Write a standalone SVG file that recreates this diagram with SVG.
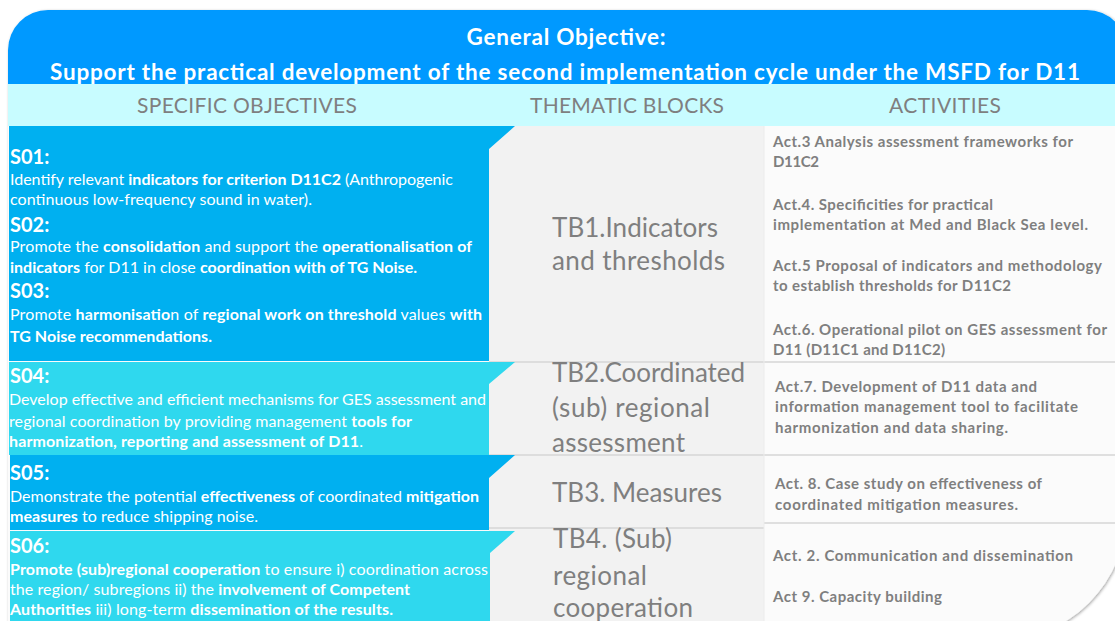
<svg xmlns="http://www.w3.org/2000/svg" width="1115" height="621" viewBox="0 0 1115 621">
<defs>
<style>
.hd{font-family:Lato,"Liberation Sans",sans-serif;font-weight:bold;fill:#FFFFFF;font-size:22.5px}
.ch{font-family:Lato,"Liberation Sans",sans-serif;fill:#7F7F7F;font-size:21px}
.so{font-family:Lato,"Liberation Sans",sans-serif;fill:#FFFFFF;font-size:16px}
.sl{font-family:Lato,"Liberation Sans",sans-serif;fill:#FFFFFF;font-size:20px;font-weight:bold}
.b{font-weight:bold}
.tb{font-family:Lato,"Liberation Sans",sans-serif;fill:#7F7F7F;font-size:26px}
.ac{font-family:Lato,"Liberation Sans",sans-serif;fill:#7F7F7F;font-size:15px;font-weight:bold}
.sep{stroke:#D6D6D6;stroke-width:1.5;fill:none}
.blue{fill:#00B0F0}
.cyan{fill:#2FD8EE}
</style>
<clipPath id="frameClip"><path d="M8,50 A40,40 0 0 1 48,10 L1087,10 A40,40 0 0 1 1127,50 L1127,511 A130,130 0 0 1 997,641 L8,641 Z"/></clipPath>
<filter id="shadow" x="-5%" y="-5%" width="110%" height="110%"><feDropShadow dx="1" dy="1" stdDeviation="1.5" flood-color="#000000" flood-opacity="0.35"/></filter>
</defs>
<rect x="0" y="0" width="1115" height="621" fill="#FFFFFF"/>
<g id="frame">
<path d="M8,50 A40,40 0 0 1 48,10 L1087,10 A40,40 0 0 1 1127,50 L1127,511 A130,130 0 0 1 997,641 L8,641 Z" fill="#FBFBFB" filter="url(#shadow)"/>
<g clip-path="url(#frameClip)">
<rect x="0" y="0" width="1130" height="84" fill="#0099FF"/>
<rect x="0" y="84" width="1130" height="42" fill="#C8FCFF"/>
<rect x="489" y="126" width="275" height="500" fill="#F2F2F2"/>
</g>
</g>
<g id="general-objective">
<text class="hd" x="566" y="45" text-anchor="middle" textLength="199">General Objective:</text>
<text class="hd" x="50" y="80" textLength="1030">Support the practical development of the second implementation cycle under the MSFD for D11</text>
</g>
<g id="column-headers">
<text class="ch" x="137" y="113" textLength="220">SPECIFIC OBJECTIVES</text>
<text class="ch" x="530" y="113" textLength="194">THEMATIC BLOCKS</text>
<text class="ch" x="889" y="113" textLength="112">ACTIVITIES</text>
</g>
<g id="separators">
<line class="sep" x1="489" y1="362" x2="1127" y2="362"/>
<line class="sep" x1="489" y1="455" x2="1127" y2="455"/>
<line class="sep" x1="489" y1="528" x2="764" y2="528"/>
<line class="sep" x1="764" y1="523" x2="1127" y2="523"/>
<line x1="764" y1="126" x2="764" y2="621" stroke="#ECECEC" stroke-width="1"/>
</g>
<g id="so-01-03">
<polygon class="blue" points="9,126 515,126 489,149 489,361 9,361"/>
<text class="sl" x="10" y="164">S01:</text>
<text class="so" x="10" y="185" textLength="443">Identify relevant <tspan class="b">indicators for criterion D11C2</tspan> (Anthropogenic</text>
<text class="so" x="10" y="205" textLength="302">continuous low-frequency sound in water).</text>
<text class="sl" x="10" y="232">S02:</text>
<text class="so" x="10" y="252" textLength="462">Promote the <tspan class="b">consolidation</tspan> and support the <tspan class="b">operationalisation of</tspan></text>
<text class="so" x="10" y="273" textLength="407"><tspan class="b">indicators</tspan> for D11 in close <tspan class="b">coordination with of TG Noise.</tspan></text>
<text class="sl" x="10" y="298">S03:</text>
<text class="so" x="10" y="320" textLength="472">Promote <tspan class="b">harmonisatio</tspan>n of <tspan class="b">regional work on threshold</tspan> values <tspan class="b">with</tspan></text>
<text class="so" x="10" y="342" textLength="202"><tspan class="b">TG Noise recommendations.</tspan></text>
</g>
<g id="so-04">
<polygon class="cyan" points="9,362 515,362 489,384 489,455 9,455"/>
<text class="sl" x="10" y="383">S04:</text>
<text class="so" x="9" y="405" textLength="477">Develop effective and efficient mechanisms for GES assessment and</text>
<text class="so" x="9" y="427" textLength="403">regional coordination by providing management <tspan class="b">tools for</tspan></text>
<text class="so" x="9" y="447" textLength="354"><tspan class="b">harmonization, reporting and assessment of D11</tspan>.</text>
</g>
<g id="so-05">
<polygon class="blue" points="10,455 515,455 489,478 489,530 10,530"/>
<text class="sl" x="10" y="480">S05:</text>
<text class="so" x="10" y="502" textLength="469">Demonstrate the potential <tspan class="b">effectiveness</tspan> of coordinated <tspan class="b">mitigation</tspan></text>
<text class="so" x="10" y="522" textLength="248"><tspan class="b">measures</tspan> to reduce shipping noise.</text>
</g>
<g id="so-06">
<polygon class="cyan" points="10,531 515,531 490,553 490,621 10,621"/>
<text class="sl" x="10" y="553">S06:</text>
<text class="so" x="10" y="575" textLength="478"><tspan class="b">Promote (sub)regional cooperation</tspan> to ensure i) coordination across</text>
<text class="so" x="10" y="595" textLength="400">the region/ subregions ii) the <tspan class="b">involvement of Competent</tspan></text>
<text class="so" x="10" y="615" textLength="383"><tspan class="b">Authorities</tspan> iii) long-term <tspan class="b">dissemination of the results.</tspan></text>
</g>
<g id="tb1">
<text class="tb" x="552" y="237" textLength="166">TB1.Indicators</text>
<text class="tb" x="552" y="270" textLength="173">and thresholds</text>
</g>
<g id="tb2">
<text class="tb" x="552" y="382" textLength="193">TB2.Coordinated</text>
<text class="tb" x="552" y="417" textLength="158">(sub) regional</text>
<text class="tb" x="552" y="452" textLength="133">assessment</text>
</g>
<g id="tb3">
<text class="tb" x="552" y="502" textLength="170">TB3. Measures</text>
</g>
<g id="tb4">
<text class="tb" x="553" y="548" textLength="119">TB4. (Sub)</text>
<text class="tb" x="553" y="585" textLength="94">regional</text>
<text class="tb" x="553" y="617" textLength="140">cooperation</text>
</g>
<g id="act-tb1">
<text class="ac" x="773" y="147" textLength="300">Act.3 Analysis assessment frameworks for</text>
<text class="ac" x="773" y="167" textLength="46">D11C2</text>
<text class="ac" x="773" y="210" textLength="220">Act.4. Specificities for practical</text>
<text class="ac" x="773" y="230" textLength="315">implementation at Med and Black Sea level.</text>
<text class="ac" x="773" y="271" textLength="329">Act.5 Proposal of indicators and methodology</text>
<text class="ac" x="773" y="291" textLength="238">to establish thresholds for D11C2</text>
<text class="ac" x="773" y="335" textLength="334">Act.6. Operational pilot on GES assessment for</text>
<text class="ac" x="773" y="355" textLength="172">D11 (D11C1 and D11C2)</text>
</g>
<g id="act-tb2">
<text class="ac" x="775" y="392" textLength="262">Act.7. Development of D11 data and</text>
<text class="ac" x="775" y="412" textLength="303">information management tool to facilitate</text>
<text class="ac" x="775" y="433" textLength="233">harmonization and data sharing.</text>
</g>
<g id="act-tb3">
<text class="ac" x="775" y="489" textLength="267">Act. 8. Case study on effectiveness of</text>
<text class="ac" x="775" y="510" textLength="243">coordinated mitigation measures.</text>
</g>
<g id="act-tb4">
<text class="ac" x="773" y="561" textLength="300">Act. 2. Communication and dissemination</text>
<text class="ac" x="773" y="602" textLength="169">Act 9. Capacity building</text>
</g>
</svg>
